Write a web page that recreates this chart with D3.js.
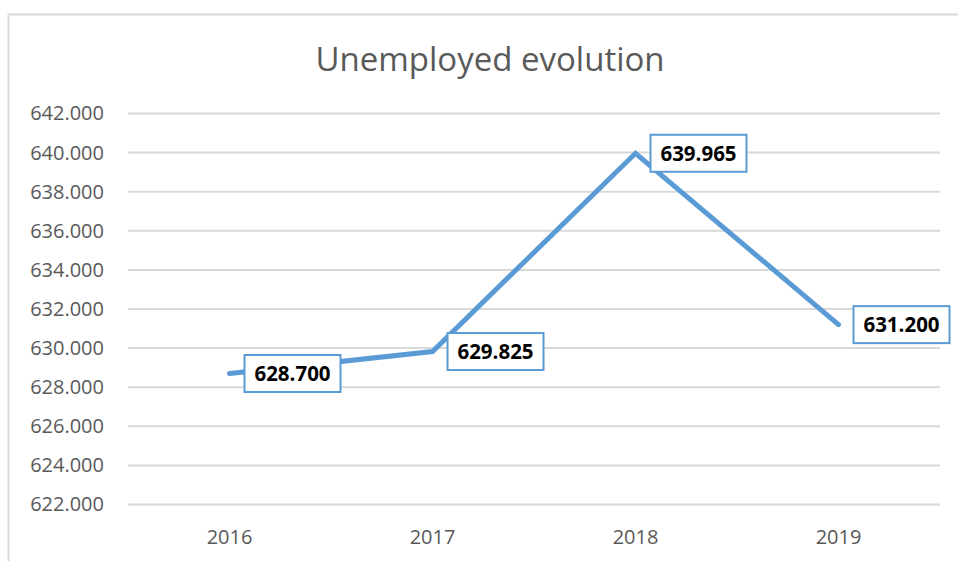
<!DOCTYPE html>
<html><head><meta charset="utf-8">
<script src="https://cdn.jsdelivr.net/npm/d3@7"></script>
<style>
html,body{margin:0;padding:0;background:#fff;}
svg{display:block;}
text{font-family:"Open Sans",sans-serif;}
</style></head>
<body>
<svg id="chart" width="958" height="561"></svg>
<script>
const title = "Unemployed evolution";
const years = ["2016","2017","2018","2019"];
const unemployed = [628.700, 629.825, 639.965, 631.200];
const yTicks = [622,624,626,628,630,632,634,636,638,640,642];

const svg = d3.select("#chart");
const W = 958, H = 561;
const m = {left:128, right:18, top:113.5, bottom:56.5};

// chart border (top & left visible)
svg.append("line").attr("x1",8).attr("x2",W).attr("y1",14.5).attr("y2",14.5)
  .attr("stroke","#d9d9d9").attr("stroke-width",2);
svg.append("line").attr("x1",8.5).attr("x2",8.5).attr("y1",14).attr("y2",H)
  .attr("stroke","#d9d9d9").attr("stroke-width",2);

const x = d3.scaleBand().domain(years).range([m.left, W-m.right]);
const y = d3.scaleLinear().domain([622,642]).range([H-m.bottom, m.top]);

const fmt = d3.format(".3f");

// gridlines
svg.append("g").selectAll("line").data(yTicks).join("line")
  .attr("x1", m.left).attr("x2", W-m.right)
  .attr("y1", d=>y(d)).attr("y2", d=>y(d))
  .attr("stroke","#d9d9d9").attr("stroke-width",2);

// y axis labels
const yAxis = d3.axisLeft(y).tickValues(yTicks).tickFormat(fmt).tickSize(0).tickPadding(24);
const ya = svg.append("g").attr("transform",`translate(${m.left},0)`).call(yAxis);
ya.select(".domain").remove();
ya.selectAll("text").attr("font-size",20).attr("fill","#595959")
  .style("font-family",'"Open Sans",sans-serif');

// x axis labels
const xAxis = d3.axisBottom(x).tickSize(0).tickPadding(25);
const xa = svg.append("g").attr("transform",`translate(0,${H-m.bottom})`).call(xAxis);
xa.select(".domain").remove();
xa.selectAll("text").attr("font-size",20).attr("fill","#595959")
  .style("font-family",'"Open Sans",sans-serif');

// title
svg.append("text").attr("x", 490).attr("y", 71).attr("text-anchor","middle")
  .attr("font-size",33).attr("fill","#595959").text(title);

// line
const cx = d => x(d) + x.bandwidth()/2;
const pts = years.map((yr,i)=>[cx(yr), y(unemployed[i])]);
svg.append("path").datum(pts)
  .attr("d", d3.line())
  .attr("fill","none").attr("stroke","#5b9bd5").attr("stroke-width",5)
  .attr("stroke-linejoin","miter").attr("stroke-linecap","round");

// data labels
const lbl = svg.append("g").selectAll("g").data(pts).join("g")
  .attr("transform", d=>`translate(${d[0]+15},${d[1]})`);
lbl.append("rect").attr("x",0).attr("y",-18.5).attr("width",96).attr("height",37)
  .attr("fill","#fff").attr("stroke","#5b9bd5").attr("stroke-width",2);
lbl.append("text").attr("x",48).attr("y",7.5).attr("text-anchor","middle")
  .attr("font-size",20.5).attr("font-weight","bold").attr("fill","#000")
  .text((d,i)=>fmt(unemployed[i]));
</script>
</body></html>
